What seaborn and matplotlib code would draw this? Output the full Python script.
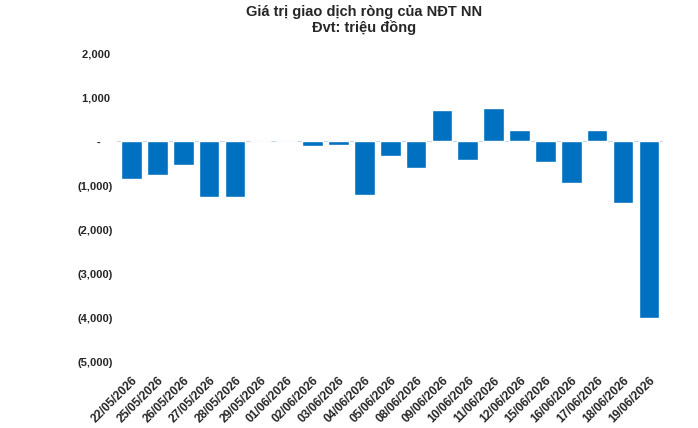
import matplotlib
matplotlib.use("Agg")
import matplotlib.pyplot as plt
import seaborn as sns
import pandas as pd
from matplotlib.ticker import FuncFormatter

# Data: net trading value of foreign investors (million VND)
dates = ['22/05/2026', '25/05/2026', '26/05/2026', '27/05/2026', '28/05/2026',
         '29/05/2026', '01/06/2026', '02/06/2026', '03/06/2026', '04/06/2026',
         '05/06/2026', '08/06/2026', '09/06/2026', '10/06/2026', '11/06/2026',
         '12/06/2026', '15/06/2026', '16/06/2026', '17/06/2026', '18/06/2026',
         '19/06/2026']
net_values = [-850, -765, -545, -1265, -1265,
              15, 15, -105, -75, -1220,
              -325, -605, 720, -415, 745,
              265, -475, -945, 265, -1395,
              -4000]
y_ticks = [2000, 1000, 0, -1000, -2000, -3000, -4000, -5000]

df = pd.DataFrame({'Date': dates, 'Value': net_values})

sns.set_style('white')
plt.rcParams['font.family'] = ['Liberation Sans', 'DejaVu Sans']

fig = plt.figure(figsize=(6.98, 4.28), dpi=100)
ax = fig.add_axes([0.168, 0.154, 0.782, 0.722])

ax.axhline(0, color='#C9D9E8', linewidth=0.9, zorder=0)

sns.barplot(data=df, x='Date', y='Value', color='#0070C0', saturation=1,
            width=0.8, ax=ax, zorder=2)

def acct(v, pos):
    if abs(v) < 0.5:
        return '-    '
    if v < 0:
        return f'({abs(v):,.0f})'
    return f'{v:,.0f} '

ax.set_ylim(-5000, 2000)
ax.set_yticks(y_ticks)
ax.yaxis.set_major_formatter(FuncFormatter(acct))
ax.set_xlim(-0.55, len(dates) - 0.45)

ax.set_xlabel('')
ax.set_ylabel('')
ax.tick_params(axis='both', length=0)
ax.tick_params(axis='y', pad=3)
ax.tick_params(axis='x', pad=9)
for lbl in ax.get_yticklabels():
    lbl.set_fontsize(8)
    lbl.set_fontweight('bold')
for lbl in ax.get_xticklabels():
    lbl.set_fontsize(8.6)
    lbl.set_fontweight('bold')
    lbl.set_rotation(45)
    lbl.set_ha('right')
    lbl.set_rotation_mode('anchor')

for s in ax.spines.values():
    s.set_visible(False)

fig.text(0.522, 0.988, 'Giá trị giao dịch ròng của NĐT NN\nĐvt: triệu đồng',
         ha='center', va='top', fontsize=10.5, fontweight='bold', linespacing=1.1)

fig.savefig('out.png', dpi=100)
